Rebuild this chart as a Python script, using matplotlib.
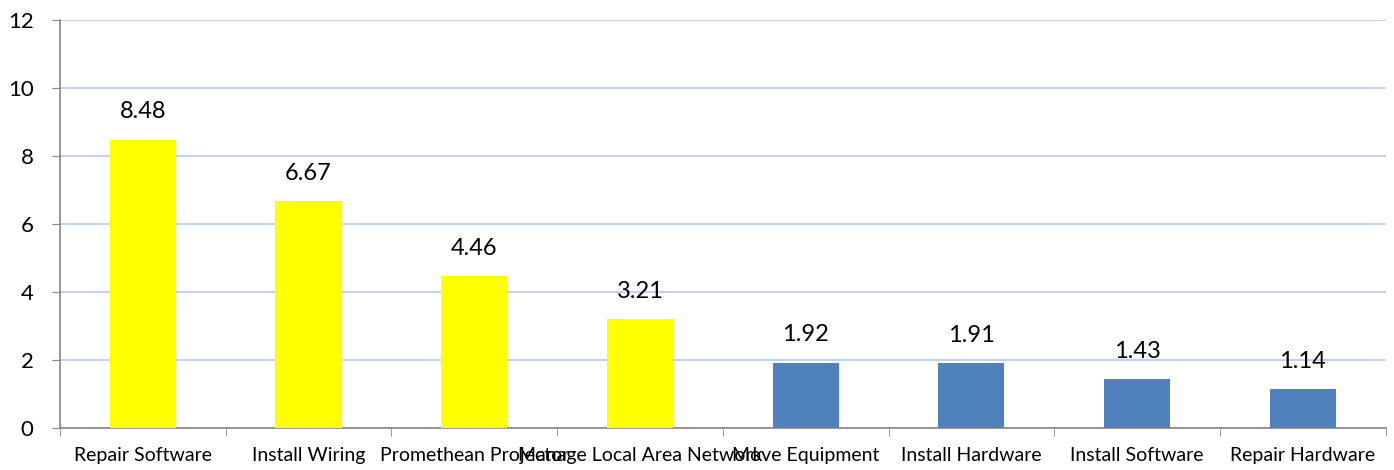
import matplotlib.pyplot as plt
import numpy as np

plt.rcParams['font.family'] = ['Lato', 'DejaVu Sans']

# data
tasks = ['Repair Software', 'Install Wiring', 'Promethean Projector',
         'Manage Local Area Network', 'Move Equipment', 'Install Hardware',
         'Install Software', 'Repair Hardware']
hours = [8.48, 6.67, 4.46, 3.21, 1.92, 1.91, 1.43, 1.14]
colors = ['#FFFF00'] * 4 + ['#4F81BD'] * 4

fig = plt.figure(figsize=(13.94, 4.70), dpi=100)
ax = fig.add_axes([0.043, 0.0894, 0.951, 0.868])

x = np.arange(len(tasks))
bars = ax.bar(x, hours, width=0.4, color=colors, zorder=3)

for b, v in zip(bars, hours):
    ax.annotate(f'{v:.2f}', (b.get_x() + b.get_width() / 2, v),
                xytext=(0, 20), textcoords='offset points',
                ha='center', va='center', fontsize=17)

ax.set_xlim(-0.5, len(tasks) - 0.5)
ax.set_ylim(0, 12)
ax.set_yticks(range(0, 13, 2))
ax.tick_params(axis='y', labelsize=16, length=6, color='#868686', pad=13)

ax.set_xticks(x)
ax.set_xticklabels(tasks, fontsize=14)
ax.set_xticks(np.arange(-0.5, len(tasks)), minor=True)
ax.tick_params(axis='x', which='major', length=0, pad=14)
ax.tick_params(axis='x', which='minor', length=6, color='#868686')

ax.grid(axis='y', color='#B7C8E8', linewidth=1.2, zorder=0)
for s in ['top', 'right']:
    ax.spines[s].set_visible(False)
for s in ['left', 'bottom']:
    ax.spines[s].set_color('#868686')
    ax.spines[s].set_linewidth(1.2)

fig.savefig('out.png', dpi=100)
